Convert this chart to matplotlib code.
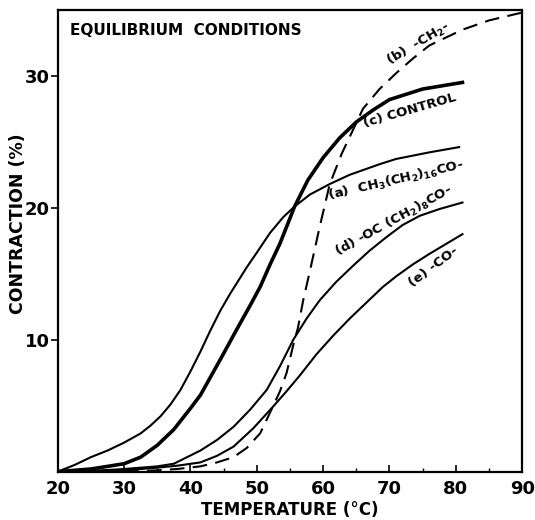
import matplotlib
matplotlib.use("Agg")
import matplotlib.pyplot as plt
from matplotlib.ticker import MultipleLocator

# curves (temperature in degC, contraction in %)
t_a = [20, 22.5, 25, 27.5, 30, 32.5, 34, 35.5, 37, 38.5, 40, 41.5, 43, 44.5, 46, 48.5, 50, 52, 54, 55.7, 58, 61, 64, 68.5, 71, 76, 80.5]
a = [0, 0.5, 1.1, 1.6, 2.2, 2.9, 3.5, 4.2, 5.1, 6.2, 7.6, 9.1, 10.7, 12.2, 13.5, 15.5, 16.6, 18.1, 19.3, 20.1, 21.0, 21.8, 22.5, 23.3, 23.7, 24.2, 24.6]

t_c = [20, 25, 30, 32.5, 35, 37.5, 40, 41.5, 44.5, 47, 49, 50.5, 52, 53.5, 55.7, 57.7, 60, 62.5, 65, 67.5, 70, 75, 81]
c = [0, 0.2, 0.6, 1.1, 2.0, 3.2, 4.8, 5.8, 8.5, 10.8, 12.6, 14.0, 15.7, 17.3, 20.1, 22.1, 23.8, 25.3, 26.5, 27.4, 28.2, 29.0, 29.5]

t_d = [20, 25, 30, 35, 37.5, 41.5, 44, 46.5, 49, 51.5, 53.5, 55.5, 57.5, 59.5, 62, 64.5, 67, 69.6, 72, 74.6, 77.5, 81]
d = [0, 0.05, 0.2, 0.4, 0.6, 1.6, 2.4, 3.4, 4.7, 6.2, 8.0, 10.0, 11.6, 13.0, 14.4, 15.6, 16.75, 17.8, 18.7, 19.4, 19.9, 20.4]

t_e = [20, 30, 35, 38, 41.5, 44, 46.5, 49.5, 52.4, 54.5, 56.5, 59, 61.5, 64, 66.5, 69, 71, 73.5, 76, 81]
e = [0, 0.1, 0.3, 0.45, 0.7, 1.2, 1.9, 3.3, 4.9, 6.1, 7.3, 8.9, 10.3, 11.6, 12.8, 14.0, 14.8, 15.7, 16.5, 18.0]

t_b = [30, 35, 38, 41.5, 44, 46.5, 48.5, 50.5, 52.4, 53.5, 54.5, 55.5, 56.2, 57, 58, 59.5, 61, 62.8, 64.5, 66, 68.5, 71, 73.5, 76, 81, 85, 90]
b = [0, 0.1, 0.2, 0.4, 0.7, 1.1, 1.8, 2.9, 4.9, 6.1, 7.5, 9.6, 10.9, 13.0, 15.2, 18.6, 21.8, 24.1, 25.9, 27.5, 29.0, 30.2, 31.3, 32.3, 33.5, 34.2, 34.8]

x_ticks = [20, 30, 40, 50, 60, 70, 80, 90]
y_ticks = [10, 20, 30]

plt.rcParams['font.family'] = 'DejaVu Sans'
plt.rcParams['font.weight'] = 'bold'

fig = plt.figure(figsize=(5.35, 5.2), dpi=100)
ax = fig.add_axes([0.108, 0.093, 0.868, 0.888])

ax.plot(t_a, a, color='black', lw=1.5)
ax.plot(t_c, c, color='black', lw=2.6)
ax.plot(t_d, d, color='black', lw=1.5)
ax.plot(t_e, e, color='black', lw=1.5)
ax.plot(t_b, b, color='black', lw=1.5, dashes=(7, 4))

ax.set_xlim(20, 90)
ax.set_ylim(0, 35)
ax.set_xticks(x_ticks)
ax.set_yticks(y_ticks)
ax.xaxis.set_minor_locator(MultipleLocator(5))
ax.tick_params(axis='x', direction='in', length=5, width=1.2, labelsize=13, pad=6)
ax.tick_params(axis='x', which='minor', direction='in', length=3, width=1)
ax.tick_params(axis='y', direction='out', length=5, width=1.2, labelsize=13, pad=1)
for s in ax.spines.values():
    s.set_linewidth(1.6)

ax.set_xlabel('TEMPERATURE (°C)', fontsize=12, fontweight='bold', labelpad=2)
fig.text(0.033, 0.569, 'CONTRACTION (%)', rotation=90, fontsize=12.5,
         fontweight='bold', ha='center', va='center')

ax.text(21.8, 33.4, 'EQUILIBRIUM  CONDITIONS', fontsize=11, fontweight='bold',
        ha='left', va='center')

lbl = dict(fontsize=9.5, fontweight='bold', ha='center', va='center')
ax.text(74.4, 32.4, '(b)  -CH$_2$-', rotation=31, **lbl)
ax.text(73.1, 27.4, '(c) CONTROL', rotation=16, **lbl)
ax.text(71.0, 22.1, '(a)  CH$_3$(CH$_2$)$_{16}$CO-', rotation=13, **lbl)
ax.text(70.6, 19.0, '(d) -OC (CH$_2$)$_8$CO-', rotation=29, **lbl)
ax.text(76.6, 15.5, '(e) -CO-', rotation=37, **lbl)

fig.savefig('out.png', dpi=100)
